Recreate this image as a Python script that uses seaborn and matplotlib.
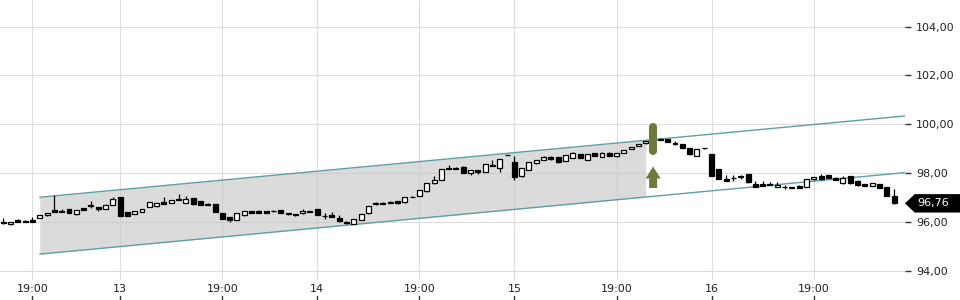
import numpy as np
import matplotlib
matplotlib.use("Agg")
import matplotlib.pyplot as plt
import seaborn as sns
from matplotlib.patches import Polygon
from matplotlib.transforms import blended_transform_factory
from matplotlib.ticker import FixedLocator, FuncFormatter

# ---------------- data ----------------
opens = [96.01, 95.90, 96.09, 96.05, 96.07, 96.15, 96.27, 96.49, 96.45, 96.52,
         96.31, 96.56, 96.71, 96.60, 96.52, 96.69, 97.03, 96.41, 96.33, 96.42,
         96.60, 96.64, 96.82, 96.79, 96.95, 96.79, 96.97, 96.86, 96.75, 96.74,
         96.37, 96.20, 96.07, 96.30, 96.45, 96.45, 96.45, 96.45, 96.49, 96.37,
         96.33, 96.35, 96.45, 96.52, 96.25, 96.29, 96.17, 96.01, 95.91, 96.08,
         96.35, 96.79, 96.79, 96.82, 96.85, 96.80, 97.03, 97.07, 97.25, 97.58,
         97.72, 98.20, 98.22, 98.26, 97.99, 98.13, 98.06, 98.33, 98.20, 98.75,
         98.47, 97.88, 98.13, 98.40, 98.54, 98.67, 98.65, 98.51, 98.61, 98.77,
         98.54, 98.81, 98.65, 98.84, 98.70, 98.84, 98.98, 99.10, 99.22, 99.30,
         99.38, 99.40, 99.22, 99.19, 99.02, 98.71, 99.02, 98.78, 98.17, 97.76,
         97.79, 97.85, 97.96, 97.55, 97.55, 97.55, 97.42, 97.42, 97.44, 97.47,
         97.42, 97.74, 97.88, 97.91, 97.81, 97.58, 97.88, 97.69, 97.55, 97.49,
         97.55, 97.43, 97.06]
closes = [95.94, 95.99, 95.99, 96.01, 96.01, 96.29, 96.37, 96.42, 96.40, 96.38,
          96.49, 96.50, 96.64, 96.54, 96.71, 96.94, 96.26, 96.25, 96.45, 96.53,
          96.82, 96.78, 96.75, 96.90, 96.91, 96.94, 96.72, 96.71, 96.71, 96.42,
          96.13, 96.07, 96.37, 96.45, 96.38, 96.38, 96.38, 96.44, 96.38, 96.31,
          96.27, 96.46, 96.40, 96.29, 96.24, 96.20, 96.05, 95.94, 96.12, 96.32,
          96.65, 96.72, 96.74, 96.79, 96.78, 97.03, 97.02, 97.30, 97.58, 97.73,
          98.16, 98.16, 98.16, 98.02, 98.13, 98.06, 98.37, 98.29, 98.58, 98.74,
          97.83, 98.20, 98.44, 98.54, 98.67, 98.57, 98.47, 98.74, 98.81, 98.61,
          98.77, 98.70, 98.84, 98.71, 98.81, 98.93, 99.07, 99.18, 99.32, 99.40,
          99.36, 99.29, 99.18, 99.02, 98.77, 98.98, 99.01, 97.89, 97.76, 97.69,
          97.78, 97.86, 97.65, 97.42, 97.47, 97.51, 97.51, 97.43, 97.38, 97.40,
          97.74, 97.83, 97.74, 97.79, 97.72, 97.79, 97.58, 97.51, 97.47, 97.60,
          97.38, 97.06, 96.76]
highs = [96.15, 96.00, 96.10, 96.06, 96.20, 96.30, 96.38, 97.10, 96.52, 96.53,
         96.50, 96.57, 96.87, 96.61, 96.72, 97.03, 97.04, 96.42, 96.46, 96.54,
         96.83, 96.79, 97.03, 96.91, 97.15, 97.07, 96.98, 96.87, 96.78, 96.75,
         96.38, 96.21, 96.38, 96.46, 96.46, 96.49, 96.46, 96.50, 96.50, 96.38,
         96.34, 96.52, 96.46, 96.53, 96.35, 96.41, 96.28, 96.02, 96.13, 96.33,
         96.66, 96.80, 96.80, 96.85, 96.86, 97.04, 97.05, 97.31, 97.59, 97.88,
         98.17, 98.35, 98.23, 98.27, 98.14, 98.14, 98.38, 98.54, 98.59, 98.76,
         98.70, 98.21, 98.45, 98.55, 98.68, 98.70, 98.66, 98.75, 98.86, 98.78,
         98.78, 98.82, 98.85, 98.85, 98.82, 98.94, 99.08, 99.19, 99.33, 99.48,
         99.44, 99.41, 99.30, 99.20, 99.03, 98.99, 99.03, 98.79, 98.18, 97.91,
         97.91, 97.94, 97.97, 97.69, 97.69, 97.63, 97.63, 97.51, 97.45, 97.50,
         97.75, 97.84, 97.96, 97.92, 97.82, 97.90, 97.89, 97.70, 97.56, 97.61,
         97.56, 97.44, 97.33]
lows = [95.93, 95.89, 95.98, 96.00, 96.00, 96.14, 96.26, 96.41, 96.39, 96.37,
        96.30, 96.49, 96.57, 96.46, 96.51, 96.68, 96.25, 96.24, 96.32, 96.41,
        96.59, 96.63, 96.74, 96.78, 96.90, 96.78, 96.71, 96.70, 96.70, 96.41,
        96.12, 96.01, 96.06, 96.24, 96.37, 96.37, 96.37, 96.40, 96.37, 96.30,
        96.23, 96.34, 96.39, 96.28, 96.13, 96.19, 96.01, 95.93, 95.90, 96.07,
        96.34, 96.71, 96.73, 96.78, 96.75, 96.79, 97.02, 97.06, 97.24, 97.57,
        97.71, 98.15, 98.15, 98.01, 97.94, 97.95, 98.05, 98.28, 98.06, 98.73,
        97.72, 97.84, 98.12, 98.39, 98.53, 98.55, 98.41, 98.50, 98.60, 98.60,
        98.53, 98.69, 98.64, 98.70, 98.64, 98.83, 98.97, 99.09, 99.21, 99.29,
        99.35, 99.28, 99.17, 99.01, 98.76, 98.70, 99.00, 97.88, 97.75, 97.68,
        97.68, 97.76, 97.58, 97.41, 97.46, 97.50, 97.41, 97.33, 97.37, 97.39,
        97.41, 97.73, 97.73, 97.78, 97.71, 97.57, 97.57, 97.48, 97.46, 97.48,
        97.37, 97.05, 96.75]

tick_pos = [4, 16, 30, 43, 57, 70, 84, 97, 111]
tick_labels = ["19:00", "13", "19:00", "14", "19:00", "15", "19:00", "16", "19:00"]
y_ticks = [94, 96, 98, 100, 102, 104]

# trend channel (candle index, price)
channel_x = [5, 123.5]
channel_upper = [97.01, 100.34]
channel_lower = [94.68, 98.02]
shade_x = [5, 88]
shade_upper = [97.01, 99.34]
shade_lower = [94.68, 97.02]

# breakout signal
signal_idx = 89
signal_bar = [98.74, 100.05]
signal_arrow = [97.39, 98.27]

last_price = closes[-1]

# ---------------- figure ----------------
sns.set_theme(style="white")
plt.rcParams['font.family'] = ['DejaVu Sans']

W, H = 960, 300
PX_Y = 24.4   # pixels per price unit
PX_X = 7.3    # pixels per candle
fig = plt.figure(figsize=(W / 100, H / 100), dpi=100)
ax = fig.add_axes([0, 20 / H, 905 / W, 280 / H])

n = len(opens)
x = np.arange(n)
o = np.array(opens)
c = np.array(closes)

ax.set_xlim(-0.45, 123.5)
ax.set_ylim(93.62, 105.09)

# grid
ax.set_axisbelow(True)
ax.grid(True, color="#dddddd", lw=0.8)
for s in ax.spines.values():
    s.set_visible(False)

# channel shading + lines
ax.fill_between(shade_x, shade_lower, shade_upper, color="#c4c4c4", alpha=0.6,
                lw=0, zorder=1)
ax.plot(channel_x, channel_upper, color="#5d9fa2", lw=1.0, zorder=2)
ax.plot(channel_x, channel_lower, color="#5d9fa2", lw=1.0, zorder=2)

# candles
ax.vlines(x, lows, highs, color="black", lw=0.9, zorder=3)
body_bottom = np.minimum(o, c)
body_h = np.abs(c - o)
fills = ["white" if cc >= oo else "black" for oo, cc in zip(o, c)]
ax.bar(x, body_h, bottom=body_bottom, width=0.68, color=fills,
       edgecolor="black", linewidth=0.9, zorder=4)

# signal marker
green = "#6c7b3b"
cap = 4 / PX_Y
ax.plot([signal_idx, signal_idx], [signal_bar[0] + cap, signal_bar[1] - cap],
        color=green, lw=5.8, solid_capstyle="round", zorder=5)
head_len = 12 / PX_Y
head_hw = 7.5 / PX_X
shaft_hw = 4.0 / PX_X
a0, a1 = signal_arrow
arrow = Polygon([(signal_idx, a1),
                 (signal_idx - head_hw, a1 - head_len),
                 (signal_idx - shaft_hw, a1 - head_len),
                 (signal_idx - shaft_hw, a0),
                 (signal_idx + shaft_hw, a0),
                 (signal_idx + shaft_hw, a1 - head_len),
                 (signal_idx + head_hw, a1 - head_len)],
                closed=True, color=green, lw=0, zorder=5)
ax.add_patch(arrow)

# axes ticks
ax.yaxis.tick_right()
ax.yaxis.set_major_locator(FixedLocator(y_ticks))
ax.yaxis.set_major_formatter(FuncFormatter(lambda v, p: f"{v:.2f}".replace(".", ",")))
ax.yaxis.set_minor_locator(FixedLocator([last_price]))
ax.tick_params(axis="y", which="major", length=4, width=1, color="#333333",
               pad=4, labelsize=8, labelcolor="#222222")
ax.tick_params(axis="y", which="minor", length=4, width=1, color="#333333",
               labelright=False)
ax.set_xticks(tick_pos)
ax.set_xticklabels(tick_labels)
ax.tick_params(axis="x", length=0, pad=3, labelsize=8, labelcolor="#222222")

xtr = ax.get_xaxis_transform()
for tp in tick_pos:
    ax.plot([tp, tp], [-0.058, -0.075], transform=xtr, clip_on=False,
            color="#333333", lw=1)

# last price tag
tr = blended_transform_factory(fig.transFigure, ax.transData)
hh = 8.5 / PX_Y
tag = Polygon([(906 / W, last_price), (915 / W, last_price + hh), (1.0, last_price + hh),
               (1.0, last_price - hh), (915 / W, last_price - hh)],
              closed=True, transform=tr, color="black", clip_on=False, zorder=6)
fig.add_artist(tag)
fig.text(917 / W, last_price, f"{last_price:.2f}".replace(".", ","), transform=tr,
         color="white", fontsize=8, va="center", ha="left", zorder=7)

fig.savefig("out.png", dpi=100)
